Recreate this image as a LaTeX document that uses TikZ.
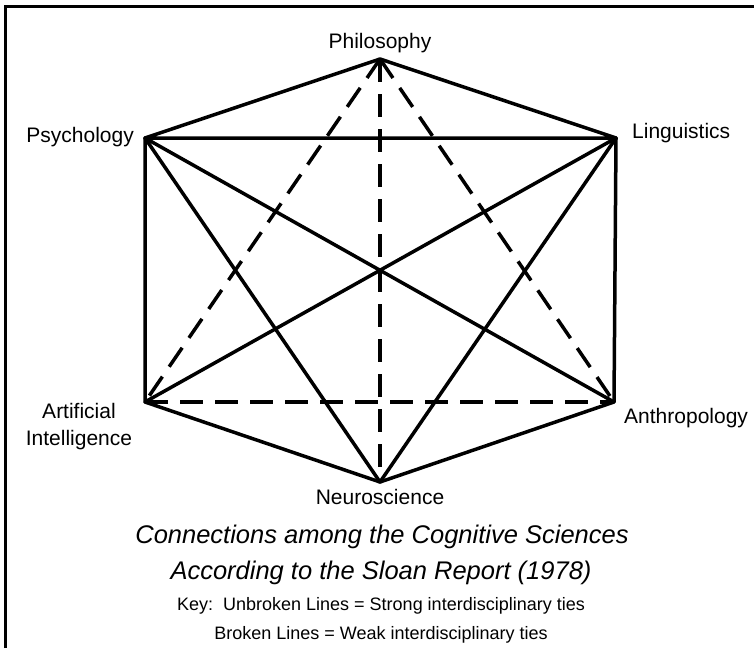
\documentclass[tikz,border=0pt]{standalone}
\usepackage{fontspec}
\setmainfont{Liberation Sans}
\begin{document}
\begin{tikzpicture}[x=1pt,y=-1pt,
  tie/.style={line width=3.5pt,line cap=round,line join=round},
  weak/.style={line width=3.5pt,dash pattern=on 23pt off 12pt},
  lbl/.style={font=\fontsize{21}{25}\selectfont,inner sep=0pt},
  ttl/.style={font=\fontsize{25.5}{30}\selectfont\itshape,inner sep=0pt},
  keytxt/.style={font=\fontsize{18}{22}\selectfont,inner sep=0pt}]
\useasboundingbox (0,0) rectangle (754,648);
% frame
\coordinate (fb) at (5.5,648);
\coordinate (fc) at (5.5,6.5);
\coordinate (fr) at (754,6.5);
\draw[line width=3pt] (fb) -- (fc) -- (fr);
% vertices
\coordinate (phil) at (380,59);
\coordinate (psy) at (145,138);
\coordinate (ling) at (616,138);
\coordinate (ai) at (145,402);
\coordinate (anth) at (614,402);
\coordinate (neuro) at (380,482);
% weak ties
\draw[weak] (phil) -- (ai);
\draw[weak] (phil) -- (neuro);
\draw[weak] (phil) -- (anth);
\draw[weak] (ai) -- (anth);
% strong ties
\draw[tie] (psy) -- (phil) -- (ling) -- (psy);
\draw[tie] (psy) -- (ai) -- (neuro) -- (anth) -- (ling);
\draw[tie] (psy) -- (anth);
\draw[tie] (psy) -- (neuro);
\draw[tie] (ling) -- (ai);
\draw[tie] (ling) -- (neuro);
% labels
\node[lbl] (lphil) at (380,43) {Philosophy};
\node[lbl,anchor=east] (lpsy) at (134,137) {Psychology};
\node[lbl,anchor=west] (lling) at (632,133) {Linguistics};
\node[lbl,align=center] (lai) at (79,427) {Artificial\\[2pt]Intelligence};
\node[lbl,anchor=west] (lanth) at (624,418) {Anthropology};
\node[lbl] (lneuro) at (380,497) {Neuroscience};
\node[ttl] (t1) at (382,537) {Connections among the Cognitive Sciences};
\node[ttl] (t2) at (381,573) {According to the Sloan Report (1978)};
\node[keytxt] (k1) at (381,606) {Key:\ \ Unbroken Lines = Strong interdisciplinary ties};
\node[keytxt] (k2) at (381,635) {Broken Lines = Weak interdisciplinary ties};
\end{tikzpicture}
\end{document}
